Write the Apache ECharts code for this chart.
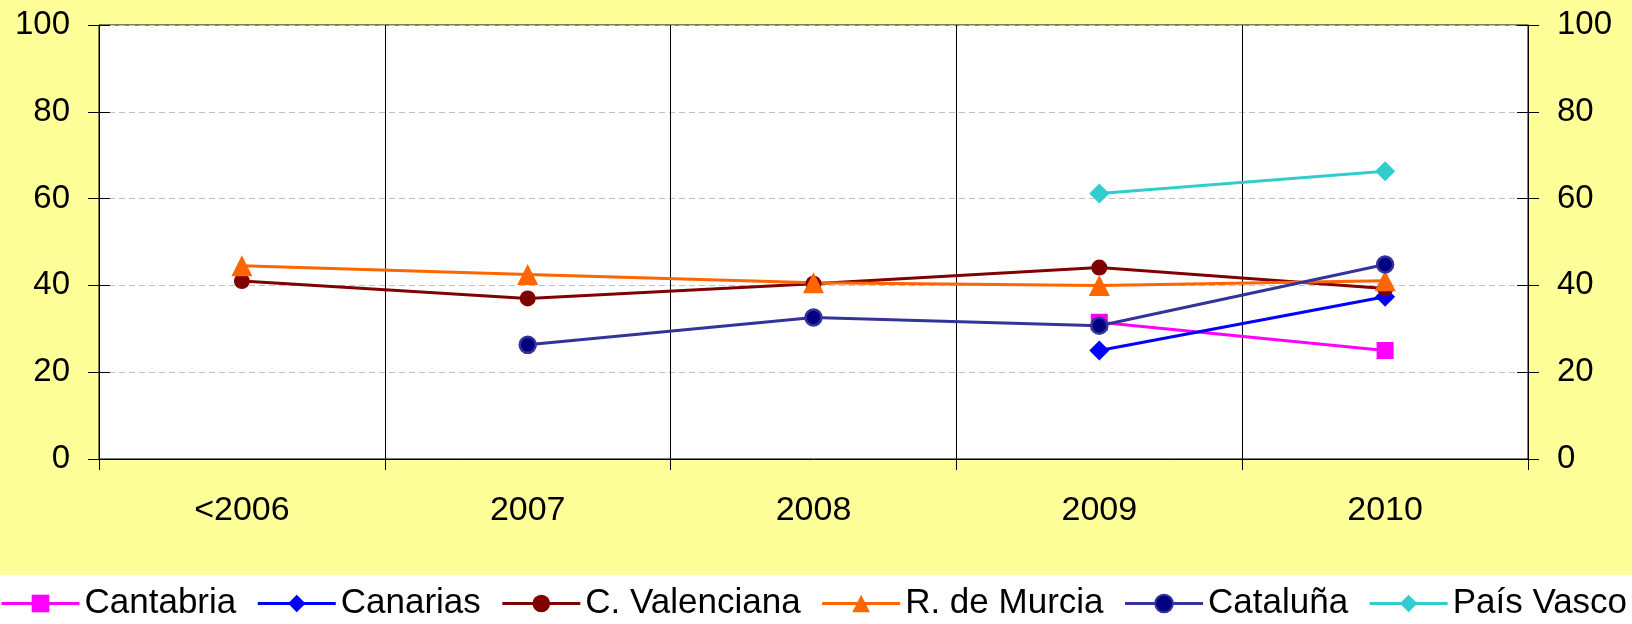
<!DOCTYPE html>
<html>
<head>
<meta charset="utf-8">
<script src="https://cdn.jsdelivr.net/npm/echarts@6/dist/echarts.min.js"></script>
<style>
  html, body { margin: 0; padding: 0; background: #fff; }
  #chart { width: 1632px; height: 624px; }
</style>
</head>
<body>
<div id="chart"></div>
<script>
// datos
var categories = ['<2006', '2007', '2008', '2009', '2010'];
var cantabria = [null, null, null, 31.5, 25];
var canarias = [null, null, null, 25, 37.4];
var valenciana = [41, 37, 40.4, 44.1, 39.3];
var murcia = [44.5, 42.5, 40.6, 40, 41.1];
var cataluna = [null, 26.3, 32.6, 30.7, 44.8];
var paisVasco = [null, null, null, 61.2, 66.3];

var font = 'Liberation Sans, Arial, sans-serif';
var chart = echarts.init(document.getElementById('chart'));

function serie(name, data, color, symbol, size, extra) {
  var s = {
    name: name,
    type: 'line',
    data: data,
    symbol: symbol,
    symbolSize: size,
    connectNulls: false,
    lineStyle: { color: color, width: 3 },
    itemStyle: { color: color },
    emphasis: { disabled: true }
  };
  if (extra) s.itemStyle = extra;
  return s;
}

var option = {
  backgroundColor: '#fff',
  animation: false,
  graphic: [{
    type: 'rect', z: -10,
    shape: { x: 0, y: 0, width: 1632, height: 575 },
    style: { fill: '#FFFF99' }
  }],
  grid: {
    left: 99, right: 104, top: 25, bottom: 165,
    show: true, backgroundColor: '#fff', borderColor: '#000', borderWidth: 1
  },
  legend: {
    left: 0, top: 586, padding: 0,
    itemWidth: 78, itemHeight: 22, itemGap: 20,
    lineStyle: { width: 3 },
    textStyle: { fontFamily: font, fontSize: 35, color: '#000' },
    data: ['Cantabria', 'Canarias', 'C. Valenciana', 'R. de Murcia', 'Cataluña', 'País Vasco']
  },
  xAxis: {
    type: 'category',
    data: categories,
    boundaryGap: true,
    axisLine: { lineStyle: { color: '#000', width: 1 } },
    axisTick: { show: true, length: 11, lineStyle: { color: '#000' } },
    axisLabel: { fontFamily: font, fontSize: 34, color: '#000', margin: 35 },
    splitLine: { show: true, lineStyle: { color: '#000', width: 1 } }
  },
  yAxis: [
    {
      type: 'value', position: 'left', min: 0, max: 100, interval: 20,
      axisLine: { show: true, lineStyle: { color: '#000' } },
      axisTick: { show: true, length: 11, lineStyle: { color: '#000' } },
      axisLabel: { fontFamily: font, fontSize: 33, color: '#000', margin: 29 },
      splitLine: { show: true, lineStyle: { color: '#c0c0c0', type: [6, 4], width: 1 } }
    },
    {
      type: 'value', position: 'left', min: 0, max: 100, interval: 20,
      axisLine: { show: false },
      axisTick: { show: true, inside: true, length: 11, lineStyle: { color: '#000' } },
      axisLabel: { show: false },
      splitLine: { show: false }
    },
    {
      type: 'value', position: 'right', min: 0, max: 100, interval: 20,
      axisLine: { show: true, lineStyle: { color: '#000' } },
      axisTick: { show: true, length: 11, lineStyle: { color: '#000' } },
      axisLabel: { fontFamily: font, fontSize: 33, color: '#000', margin: 29 },
      splitLine: { show: false }
    },
    {
      type: 'value', position: 'right', min: 0, max: 100, interval: 20,
      axisLine: { show: false },
      axisTick: { show: true, inside: true, length: 11, lineStyle: { color: '#000' } },
      axisLabel: { show: false },
      splitLine: { show: false }
    }
  ],
  series: [
    serie('Cantabria', cantabria, '#FF00FF', 'rect', 17),
    serie('Canarias', canarias, '#0000FF', 'diamond', 20),
    serie('C. Valenciana', valenciana, '#800000', 'circle', 16),
    serie('R. de Murcia', murcia, '#FF6600', 'triangle', 21),
    serie('Cataluña', cataluna, '#333399', 'circle', 16,
      { color: '#000080', borderColor: '#333399', borderWidth: 2.5 }),
    serie('País Vasco', paisVasco, '#33CCCC', 'diamond', 20)
  ]
};

chart.setOption(option);
</script>
</body>
</html>
